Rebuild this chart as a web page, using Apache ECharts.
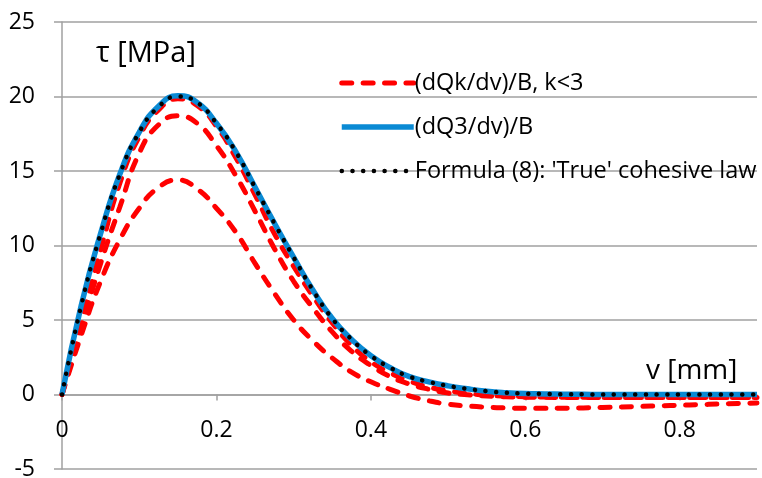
<!DOCTYPE html>
<html><head><meta charset="utf-8">
<script src="https://cdn.jsdelivr.net/npm/echarts@6/dist/echarts.min.js"></script>
<style>html,body{margin:0;padding:0;background:#fff}#c{width:762px;height:478px}</style>
</head><body><div id="c"></div>
<script>
var vValues = [0,0.025,0.05,0.075,0.1,0.125,0.15,0.175,0.2,0.225,0.25,0.275,0.3,0.325,0.35,0.375,0.4,0.425,0.45,0.475,0.5,0.525,0.55,0.575,0.6,0.625,0.65,0.675,0.7,0.725,0.75,0.775,0.8,0.825,0.85,0.875,0.9];
var trueLaw = [0,6.0,10.8,14.8,17.6,19.3,20.0,19.6,18.2,16.3,13.9,11.5,9.2,7.0,5.1,3.7,2.6,1.8,1.2,0.85,0.58,0.38,0.22,0.12,0.06,0.04,0.02,0.01,0,0,0,0,0,0,0,0,0];
var dQ3 = [0,6.0,10.8,14.8,17.6,19.35,20.05,19.6,18.2,16.3,13.9,11.5,9.2,7.0,5.1,3.7,2.6,1.8,1.2,0.85,0.58,0.38,0.22,0.12,0.06,0.04,0.02,0.01,0,0,0,0,0,0,0,0,0];
var dQk2 = [0,4.9,9.7,14.2,17.3,19.1,19.85,19.4,18.0,15.9,13.4,10.8,8.6,6.6,4.8,3.3,2.2,1.45,0.9,0.5,0.25,0.08,-0.05,-0.11,-0.15,-0.17,-0.18,-0.19,-0.2,-0.2,-0.2,-0.2,-0.2,-0.2,-0.2,-0.2,-0.2];
var dQk1 = [0,4.5,8.8,12.6,16.2,18.1,18.7,18.2,16.7,14.7,12.3,9.8,7.6,5.8,4.2,2.9,1.95,1.2,0.7,0.35,0.1,-0.02,-0.1,-0.15,-0.18,-0.19,-0.2,-0.2,-0.2,-0.2,-0.2,-0.2,-0.2,-0.2,-0.2,-0.2,-0.2];
var dQk0 = [0,4.0,7.6,10.4,12.5,13.9,14.4,13.8,12.5,10.9,8.8,6.8,5.0,3.6,2.45,1.5,0.85,0.35,-0.1,-0.42,-0.65,-0.77,-0.85,-0.9,-0.93,-0.93,-0.92,-0.9,-0.87,-0.84,-0.8,-0.76,-0.72,-0.68,-0.64,-0.6,-0.57];
var xTicks = {min:0, max:0.9, interval:0.2};
var yTicks = {min:-5, max:25, interval:5};
var nameRed = '(dQk/dv)/B, k<3', nameBlue = '(dQ3/dv)/B', nameBlack = "Formula (8): 'True' cohesive law";

function pairs(arr){ return vValues.map(function(v,i){ return [v, arr[i]]; }); }
var FONT = 'Open Sans';
var GRID = {left:62, right:5, top:22, bottom:9};
var H = 478 - GRID.top - GRID.bottom;
var zeroOffset = -H * (0 - yTicks.min) / (yTicks.max - yTicks.min);
var SMOOTH = 0.5;
var redStyle = {color:'#ff0000', width:5, type:[10,11.4], cap:'round'};
function redSeries(arr){
  return {name:nameRed, type:'line', data:pairs(arr), smooth:SMOOTH, symbol:'none', lineStyle:redStyle, itemStyle:{color:'#ff0000'}, z:2};
}
var chart = echarts.init(document.getElementById('c'), null, {renderer:'canvas'});
chart.setOption({
  animation:false,
  textStyle:{fontFamily:FONT},
  grid:{left:GRID.left, right:GRID.right, top:GRID.top, bottom:GRID.bottom, containLabel:false, outerBoundsMode:'none'},
  legend:{
    orient:'vertical', left:334, top:66, itemWidth:72, itemHeight:24, itemGap:20,
    itemStyle:{opacity:0},
    lineStyle:{width:'inherit'},
    textStyle:{fontFamily:FONT, fontSize:23.5, color:'#000', padding:[0,0,0,-4]},
    data:[nameRed, nameBlue, nameBlack]
  },
  xAxis:{
    type:'value', min:xTicks.min, max:xTicks.max, interval:xTicks.interval,
    position:'bottom', offset:zeroOffset,
    axisLine:{show:true, onZero:false, lineStyle:{color:'#a0a0a0', width:1.5}},
    axisTick:{show:true, length:6, lineStyle:{color:'#a0a0a0', width:1.5}},
    axisLabel:{fontFamily:FONT, fontSize:23, color:'#000', margin:24, showMaxLabel:false},
    splitLine:{show:false}
  },
  yAxis:{
    type:'value', min:yTicks.min, max:yTicks.max, interval:yTicks.interval,
    axisLine:{show:true, onZero:false, lineStyle:{color:'#a0a0a0', width:1.5}},
    axisTick:{show:true, length:8, lineStyle:{color:'#a0a0a0', width:1.5}},
    axisLabel:{fontFamily:FONT, fontSize:23, color:'#000', margin:27},
    splitLine:{show:true, lineStyle:{color:'#a0a0a0', width:1.5}}
  },
  graphic:[
    {type:'text', left:96, top:39, style:{text:'τ [MPa]', font:'29px "Open Sans"', fill:'#000'}},
    {type:'text', left:646, top:357, style:{text:'v [mm]', font:'28px "Open Sans"', fill:'#000'}}
  ],
  series:[
    redSeries(dQk0), redSeries(dQk1), redSeries(dQk2),
    {name:nameBlue, type:'line', data:pairs(dQ3), smooth:SMOOTH, symbol:'none', lineStyle:{color:'#0a8ad4', width:5.5}, itemStyle:{color:'#0a8ad4'}, z:3},
    {name:nameBlack, type:'line', data:pairs(trueLaw), smooth:SMOOTH, symbol:'none', lineStyle:{color:'#000', width:4.5, type:[0.1,10.6], cap:'round'}, itemStyle:{color:'#000'}, z:4}
  ]
});
</script></body></html>
